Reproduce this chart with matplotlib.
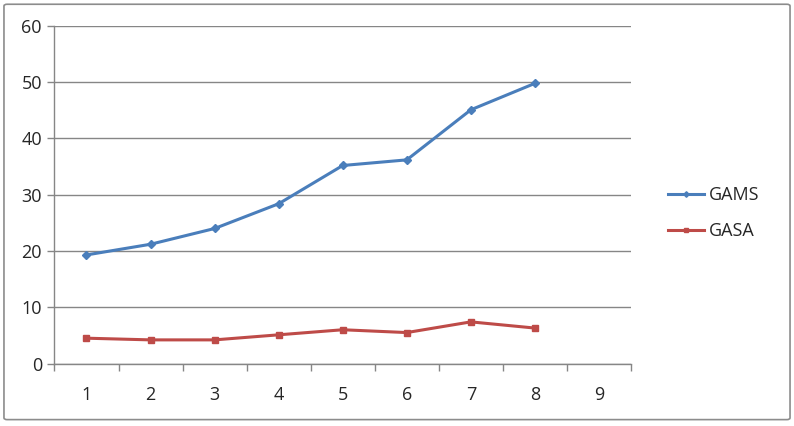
import matplotlib
matplotlib.use("Agg")
import matplotlib.pyplot as plt
from matplotlib.patches import FancyBboxPatch
import numpy as np

categories = ["1", "2", "3", "4", "5", "6", "7", "8", "9"]
gams = [19.3, 21.2, 24.0, 28.4, 35.2, 36.2, 45.1, 49.8]
gasa = [4.5, 4.2, 4.2, 5.1, 6.0, 5.5, 7.4, 6.3]
yticks = [0, 10, 20, 30, 40, 50, 60]

plt.rcParams['font.family'] = ['Open Sans', 'DejaVu Sans']

fig = plt.figure(figsize=(7.94, 4.26), dpi=100)
fig.patches.append(FancyBboxPatch((0.005, 0.015), 0.99, 0.975,
                                  boxstyle="round,pad=0,rounding_size=0.004",
                                  transform=fig.transFigure, fill=False,
                                  edgecolor="#8c8c8c", linewidth=1.2))
ax = fig.add_axes([0.0686, 0.1467, 0.7261, 0.7923])

x = np.arange(len(gams))
blue = "#4a7ebb"
red = "#be4b48"
ax.plot(x, gams, color=blue, linewidth=2.2, marker="D", markersize=4, label="GAMS")
ax.plot(x, gasa, color=red, linewidth=2.2, marker="s", markersize=4, label="GASA")

ax.set_xlim(-0.5, len(categories) - 0.5)
ax.set_ylim(0, 60)
ax.set_yticks(yticks)
ax.set_yticklabels([str(v) for v in yticks])
ax.set_xticks(np.arange(len(categories)))
ax.set_xticklabels(categories)
ax.set_xticks(np.arange(len(categories) + 1) - 0.5, minor=True)
ax.tick_params(axis="x", which="major", length=0, pad=16, labelsize=13, labelcolor="#262626")
ax.tick_params(axis="x", which="minor", length=5, width=1, color="#868686", direction="out")
ax.tick_params(axis="y", which="major", length=5, width=1, color="#868686", direction="out",
               labelsize=13, labelcolor="#262626", pad=4)

ax.grid(axis="y", color="#868686", linewidth=1)
ax.set_axisbelow(True)
for s in ["top", "right"]:
    ax.spines[s].set_visible(False)
for s in ["left", "bottom"]:
    ax.spines[s].set_color("#868686")
    ax.spines[s].set_linewidth(1)

leg = fig.legend(loc="center left", bbox_to_anchor=(0.821, 0.5), frameon=False,
                 fontsize=13, handlelength=2.0, handletextpad=0.25, labelspacing=1.0,
                 markerscale=0.7)
for t in leg.get_texts():
    t.set_color("#262626")

fig.savefig("out.png", dpi=100)
